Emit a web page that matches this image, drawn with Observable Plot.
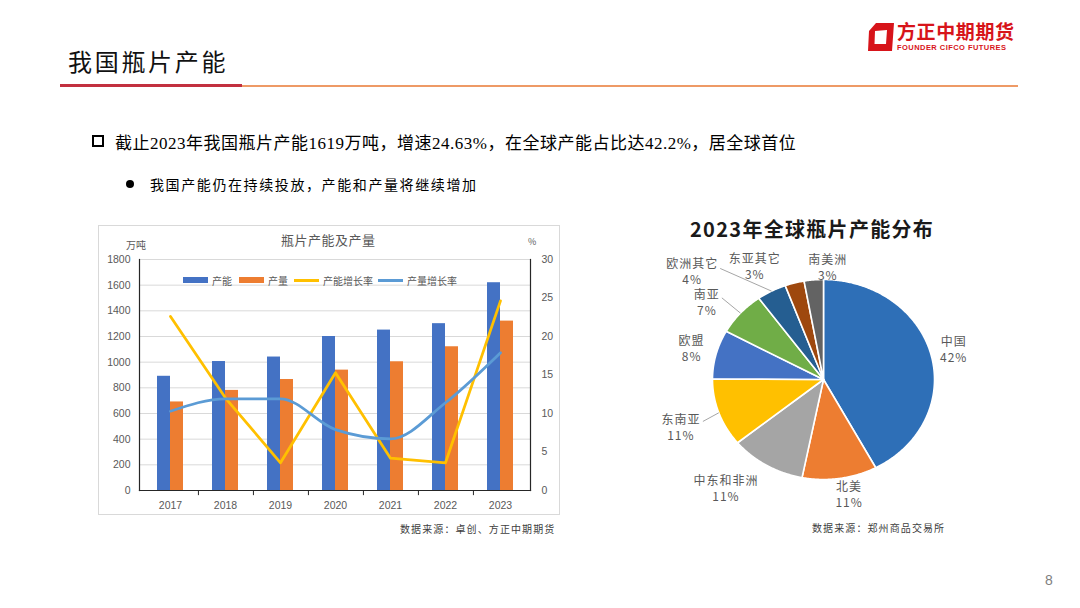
<!DOCTYPE html>
<html>
<head>
<meta charset="utf-8">
<script src="https://cdn.jsdelivr.net/npm/d3@7"></script>
<script src="https://cdn.jsdelivr.net/npm/@observablehq/plot@0.6"></script>
<style>
  html, body { margin: 0; padding: 0; }
  body { width: 1080px; height: 608px; background: #fff; position: relative; overflow: hidden;
         font-family: "Noto Sans CJK SC", "Noto Sans", sans-serif; }
  .abs { position: absolute; white-space: nowrap; }
  .vc { transform: translateY(-50%); }
</style>
</head>
<body>
<!-- header -->
<div class="abs vc" style="left:68px;top:60px;font-size:24px;letter-spacing:2.7px;color:#111;">我国瓶片产能</div>
<div class="abs" style="left:60px;top:84px;width:182px;height:2.5px;background:#C2303F;"></div>
<div class="abs" style="left:242px;top:85px;width:776px;height:1.5px;background:#EE9A66;"></div>
<!-- logo -->
<svg class="abs" style="left:866px;top:21px" width="30" height="32">
  <path d="M10 2 H28 L26 30 H2 L3 10 Z M9 10 L8.5 23 H20 L21 9 Z" fill="#D7141A" fill-rule="evenodd"/>
</svg>
<div class="abs" style="left:897px;top:19px;font-size:19px;font-weight:700;color:#D7141A;letter-spacing:0.6px;line-height:24px;">方正中期期货</div>
<div class="abs" style="left:897px;top:43px;font-size:7.5px;font-weight:700;color:#D7141A;letter-spacing:0.45px;font-family:'Liberation Sans',sans-serif;">FOUNDER CIFCO FUTURES</div>

<!-- bullets -->
<div class="abs" style="left:92px;top:135px;width:8px;height:8px;border:2px solid #000;"></div>
<div class="abs vc" style="left:115px;top:141px;font-size:17px;letter-spacing:0.5px;color:#000;font-family:'Liberation Serif','Noto Sans CJK SC',serif;">截止2023年我国瓶片产能1619万吨，增速24.63%，在全球产能占比达42.2%，居全球首位</div>
<div class="abs" style="left:126px;top:180px;width:8px;height:8px;border-radius:50%;background:#000;"></div>
<div class="abs vc" style="left:150px;top:184px;font-size:14px;letter-spacing:1.6px;color:#000;">我国产能仍在持续投放，产能和产量将继续增加</div>

<!-- left chart -->
<div id="leftFrame" class="abs" style="left:98px;top:225px;width:462px;height:290px;box-sizing:border-box;border:1px solid #D9D9D9;"></div>
<div id="leftChart" class="abs" style="left:98px;top:225px;"></div>
<div class="abs vc" style="left:281px;top:239px;font-size:13px;color:#595959;letter-spacing:0.5px;">瓶片产能及产量</div>
<div class="abs vc" style="left:126px;top:244px;font-size:10px;color:#595959;">万吨</div>
<div class="abs vc" style="left:528px;top:241px;font-size:9px;color:#595959;">%</div>
<div id="legend"></div>
<div class="abs vc" style="left:400px;top:528px;font-size:10px;letter-spacing:1.1px;color:#404040;">数据来源：卓创、方正中期期货</div>

<!-- right chart -->
<div class="abs vc" style="left:690px;top:228px;font-size:20px;font-weight:700;letter-spacing:1.3px;color:#1a1a1a;">2023年全球瓶片产能分布</div>
<div id="pieChart" class="abs" style="left:640px;top:210px;"></div>
<div class="abs vc" style="left:812px;top:527px;font-size:10px;letter-spacing:1.1px;color:#404040;">数据来源：郑州商品交易所</div>

<div class="abs vc" style="left:1045px;top:580px;font-size:14px;color:#7F7F7F;font-family:'Liberation Sans',sans-serif;">8</div>

<script>
// ---------- data ----------
const years = ["2017", "2018", "2019", "2020", "2021", "2022", "2023"];
const capacity = [890, 1005, 1040, 1200, 1250, 1300, 1619];      // 万吨
const output = [690, 780, 865, 938, 1003, 1120, 1320];           // 万吨
const capacityGrowth = [22.6, 12.0, 3.6, 15.3, 4.2, 3.6, 24.63]; // %
const outputGrowth = [10.3, 11.9, 11.9, 7.9, 6.7, 11.4, 17.9];   // %
const leftTicks = [0, 200, 400, 600, 800, 1000, 1200, 1400, 1600, 1800];
const rightTicks = [0, 5, 10, 15, 20, 25, 30];
const legendLabels = ["产能", "产量", "产能增长率", "产量增长率"];

const regions = ["中国", "北美", "中东和非洲", "东南亚", "欧盟", "南亚", "欧洲其它", "东亚其它", "南美洲"];
const shares = [42.2, 10.9, 11.0, 11.0, 7.9, 7.1, 4.3, 2.8, 2.8];

// ---------- styles ----------
const barColors = ["#4472C4", "#ED7D31"];
const lineColors = ["#FFC000", "#5B9BD5"];
const pieColors = ["#2E6FB7", "#ED7D31", "#A5A5A5", "#FFC000", "#4472C4", "#70AD47", "#255E91", "#9E480E", "#636363"];
const axisInk = "#262626";
const k = leftTicks[leftTicks.length - 1] / rightTicks[rightTicks.length - 1]; // % -> left axis units

// ---------- left chart ----------
const rows = years.map((y, i) => ({
  year: y, capacity: capacity[i], output: output[i],
  capGrowth: capacityGrowth[i], outGrowth: outputGrowth[i]
}));
const W = 462, H = 290, mL = 41, mR = 30, mT = 34, mB = 25;
const step = (W - mL - mR) / years.length;

const left = Plot.plot({
  width: W, height: H,
  marginLeft: mL, marginRight: mR, marginTop: mT, marginBottom: mB,
  style: { fontFamily: "'Liberation Sans', Arial, sans-serif", fontSize: "10.5px", color: "#595959", background: "transparent", overflow: "visible" },
  x: { type: "band", domain: years, paddingInner: 0.535, paddingOuter: 0.2675, label: null, axis: null },
  y: { domain: [0, 1800], label: null, axis: null },
  marks: [
    Plot.gridY(leftTicks.filter(d => d > 0), { stroke: "#D9D9D9", strokeOpacity: 1, strokeWidth: 1 }),
    Plot.barY(rows, { x: "year", y: "capacity", fill: barColors[0], insetRight: 13 }),
    Plot.barY(rows, { x: "year", y: "output", fill: barColors[1], insetLeft: 13 }),
    Plot.line(rows, { x: "year", y: d => d.capGrowth * k, stroke: lineColors[0], strokeWidth: 2.75 }),
    Plot.line(rows, { x: "year", y: d => d.outGrowth * k, stroke: lineColors[1], strokeWidth: 2.75, curve: "monotone-x" }),
    Plot.frame({ anchor: "left", stroke: axisInk, strokeWidth: 1.2 }),
    Plot.frame({ anchor: "right", stroke: axisInk, strokeWidth: 1.2 }),
    Plot.frame({ anchor: "bottom", stroke: axisInk, strokeWidth: 1.2 }),
    Plot.ruleX(years.slice(0, -1), { x: d => d, y1: 0, y2: -40, dx: step / 2, stroke: axisInk }),
    Plot.axisY(leftTicks, { anchor: "left", tickSize: 0, tickPadding: 9, label: null, tickFormat: d => String(d) }),
    Plot.axisY(rightTicks.map(d => d * k), { anchor: "right", tickSize: 0, tickPadding: 11, label: null, tickFormat: d => String(Math.round(d / k)) }),
    Plot.axisX(years, { anchor: "bottom", tickSize: 0, tickPadding: 11, label: null })
  ]
});
document.getElementById("leftChart").appendChild(left);

// legend (HTML)
const legend = document.getElementById("legend");
const legendItems = [
  { x: 183, type: "rect", color: barColors[0] },
  { x: 239, type: "rect", color: barColors[1] },
  { x: 294, type: "line", color: lineColors[0] },
  { x: 378, type: "line", color: lineColors[1] }
];
legendItems.forEach((it, i) => {
  const sw = document.createElement("div");
  sw.className = "abs";
  const h = it.type === "rect" ? 6 : 3;
  sw.style.cssText = `left:${it.x}px;top:${280 - h / 2}px;width:25px;height:${h}px;background:${it.color};`;
  legend.appendChild(sw);
  const t = document.createElement("div");
  t.className = "abs vc";
  t.style.cssText = `left:${it.x + 29}px;top:280px;font-size:10px;color:#595959;`;
  t.textContent = legendLabels[i];
  legend.appendChild(t);
});

// ---------- pie chart ----------
const PW = 340, PH = 330, cx = 183, cy = 169, rx = 111, ry = 100;
const arcs = d3.pie().sort(null).value(d => d)(shares);
const slicePts = [];
arcs.forEach((a, i) => {
  const n = Math.max(2, Math.ceil((a.endAngle - a.startAngle) / 0.01));
  slicePts.push({ name: regions[i], x: 0, y: 0 });
  for (let j = 0; j <= n; j++) {
    const t = a.startAngle + (a.endAngle - a.startAngle) * j / n;
    slicePts.push({ name: regions[i], x: Math.sin(t), y: Math.cos(t) });
  }
  slicePts.push({ name: regions[i], x: 0, y: 0 });
});

// label placement nudges (px) relative to the default ring position
const labelNudge = {
  "中国": [1, 0], "北美": [6, -3], "中东和非洲": [-29, 7], "东南亚": [-17, 9], "欧盟": [-3, 0],
  "南亚": [-17, 3], "欧洲其它": [-69, -1], "东亚其它": [-34, 4], "南美洲": [16, 8]
};
const leaderStart = { "东南亚": [22, -7], "南亚": [15, -5], "欧洲其它": [28, -4] };

const labels = arcs.map((a, i) => {
  const mid = (a.startAngle + a.endAngle) / 2;
  const [nx, ny] = labelNudge[regions[i]] || [0, 0];
  return {
    name: regions[i], mid,
    x: 1.2 * Math.sin(mid) + nx / rx,
    y: 1.2 * Math.cos(mid) - ny / ry,
    pct: `${Math.round(shares[i])}%`
  };
});
const leaders = labels.filter(l => leaderStart[l.name]).map(l => {
  const [sx, sy] = leaderStart[l.name];
  return { x1: l.x + sx / rx, y1: l.y - sy / ry, x2: Math.sin(l.mid), y2: Math.cos(l.mid) };
});

const pie = Plot.plot({
  width: PW, height: PH,
  style: { fontFamily: "'Noto Sans CJK SC', sans-serif", fontSize: "12px", background: "transparent", overflow: "visible", letterSpacing: "1px" },
  x: { domain: [-1, 1], range: [cx - rx, cx + rx], axis: null },
  y: { domain: [-1, 1], range: [cy + ry, cy - ry], axis: null },
  color: { domain: regions, range: pieColors },
  marks: [
    Plot.line(slicePts, { x: "x", y: "y", z: "name", fill: "name", stroke: "#fff", strokeWidth: 1.6, strokeLinejoin: "round" }),
    Plot.link(leaders, { x1: "x1", y1: "y1", x2: "x2", y2: "y2", stroke: "#A6A6A6", strokeWidth: 1 }),
    Plot.text(labels, { x: "x", y: "y", text: "name", fill: "#595959", fontSize: 12, dy: -8 }),
    Plot.text(labels, { x: "x", y: "y", text: "pct", fill: "#595959", fontSize: 12, dy: 8 })
  ]
});
document.getElementById("pieChart").appendChild(pie);
</script>
</body>
</html>
